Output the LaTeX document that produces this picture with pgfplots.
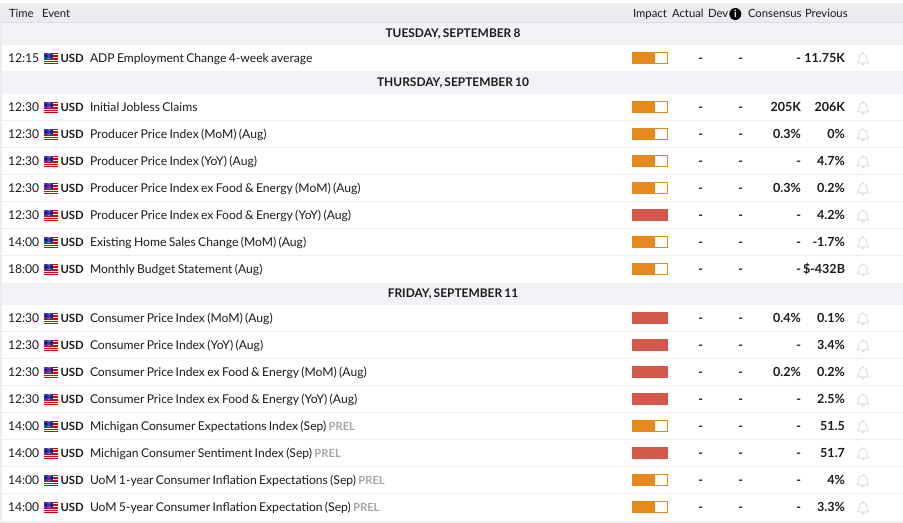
\documentclass[border=0pt]{standalone}
\usepackage{pgfplots}
\pgfplotsset{compat=1.18}
\usepackage{pgfplotstable}
\usepackage{fontspec}
\setmainfont{Lato}[WordSpace=0.75]
\definecolor{hdr}{HTML}{ECECF0}
\definecolor{sec}{HTML}{F2F2F7}
\definecolor{sepl}{HTML}{EDEDED}
\definecolor{txt}{HTML}{1A1A1A}
\definecolor{orng}{HTML}{E68A1E}
\definecolor{redb}{HTML}{D3584A}
\definecolor{bell}{HTML}{DEDEDE}
\definecolor{prelc}{HTML}{A6A6A6}
\pgfplotstableread{
y pad med rest high
58 632.5 21.5 13.5 0
107 632.5 21.5 13.5 0
134 632.5 21.5 13.5 0
161 632.5 21.5 13.5 0
188 632.5 21.5 13.5 0
215 632.5 0 0 35
242 632.5 21.5 13.5 0
269 632.5 21.5 13.5 0
318 632.5 0 0 35
345 632.5 0 0 35
372 632.5 0 0 35
399 632.5 0 0 35
426 632.5 21.5 13.5 0
453 632.5 0 0 35
480 632.5 21.5 13.5 0
507 632.5 21.5 13.5 0
}\bars
\tikzset{
 tx/.style={anchor=base west,inner sep=0pt,outer sep=0pt,text=txt,font=\fontsize{9.1pt}{11pt}\selectfont},
 txr/.style={anchor=base east,inner sep=0pt,outer sep=0pt,text=txt,font=\fontsize{9.4pt}{11pt}\selectfont\bfseries},
 pics/flag/.style={code={
  \begin{scope}[x=0.75pt,y=-0.75pt]
  \fill[white] (-7,-5.3) rectangle (7,5.7);
  \foreach \s in {-5.3,-3.7,-2.1,-0.5,1.1,2.7,4.3}{\fill[red!85!black] (-7,\s) rectangle (7,\s+0.95);}
  \fill[blue!50!black] (-7,-5.3) rectangle (1.5,1);
  \foreach \a in {-6.2,-5,-3.8,-2.6,-1.4,-0.2,1}{\foreach \b in {-4.7,-3.5,-2.3,-1.1,0.1}{\fill[white!80!blue] (\a,\b) circle (0.38);}}
  \end{scope}}},
 pics/bellicon/.style={code={
  \begin{scope}[x=0.75pt,y=-0.75pt,draw=bell,line width=0.75pt]
  \draw (-5.8,4) .. controls (-4,2.5) and (-4,1) .. (-4,-1.5) .. controls (-4,-4.5) and (-2,-5.5) .. (0,-5.5) .. controls (2,-5.5) and (4,-4.5) .. (4,-1.5) .. controls (4,1) and (4,2.5) .. (5.8,4) -- cycle;
  \draw (-1.5,4.3) .. controls (-1.2,6.6) and (1.2,6.6) .. (1.5,4.3);
  \draw (0,-5.5) -- (0,-6.5);
  \end{scope}}}
}
\newcommand{\prel}[1]{\textcolor{prelc}{\fontsize{8.4pt}{11pt}\selectfont\bfseries #1}}
\newcommand{\row}[5]{%
 \node[tx] at (axis cs:8,#1+4.8) {#2};
 \path (axis cs:51,#1+0.3) pic {flag};
 \node[tx,font=\fontsize{8.5pt}{11pt}\selectfont\bfseries] at (axis cs:60.5,#1+4.8) {USD};
 \node[tx] at (axis cs:90,#1+4.8) {#3};
 \node[txr] at (axis cs:703,#1+4.8) {-};
 \node[txr] at (axis cs:743,#1+4.8) {-};
 \node[txr] at (axis cs:801,#1+4.8) {#4};
 \node[txr] at (axis cs:845,#1+4.8) {#5};
 \path (axis cs:863,#1+1) pic {bellicon};
}
\newcommand{\sect}[2]{\node[anchor=base,inner sep=0pt,text=txt,font=\fontsize{8.95pt}{11pt}\selectfont\bfseries] at (axis cs:453,#1+5) {#2};}
\newcommand{\hd}[2]{\node[tx,font=\fontsize{8.5pt}{11pt}\selectfont] at (axis cs:#1,17.5) {#2};}
\newcommand{\band}[3]{\addplot[fill=#3,draw=none,mark=none] coordinates {(1.5,#1)(903,#1)(903,#2)(1.5,#2)} --cycle;}
\pgfplotsset{page/.style={scale only axis,width=677.25pt,height=392.25pt,at={(0,0)},anchor=south west,
  xmin=0,xmax=903,ymin=0,ymax=523,y dir=reverse,hide axis,clip=false}}
\begin{document}
\begin{tikzpicture}
\begin{axis}[page]
\band{3}{22}{hdr}
\band{22}{23}{black!13}
\band{23}{45}{sec}
\band{71}{94}{sec}
\band{283}{305}{sec}
\band{120}{121}{sepl}
\band{147}{148}{sepl}
\band{174}{175}{sepl}
\band{201}{202}{sepl}
\band{228}{229}{sepl}
\band{255}{256}{sepl}
\band{331}{332}{sepl}
\band{358}{359}{sepl}
\band{385}{386}{sepl}
\band{412}{413}{sepl}
\band{439}{440}{sepl}
\band{466}{467}{sepl}
\band{493}{494}{sepl}
\addplot[fill=sepl,draw=none,mark=none] coordinates {(0,3)(1.5,3)(1.5,523)(0,523)} --cycle;
\addplot[fill=sepl,draw=none,mark=none] coordinates {(0,521)(903,521)(903,523)(0,523)} --cycle;
\end{axis}
\begin{axis}[page,xbar stacked,bar width=8.25pt]
\addplot[draw=none,fill=none] table[x=pad,y=y] {\bars};
\addplot[draw=orng,fill=orng,line width=0.75pt] table[x=med,y=y] {\bars};
\addplot[draw=orng,fill=white,line width=0.75pt] table[x=rest,y=y] {\bars};
\addplot[draw=redb,fill=redb,line width=0.75pt] table[x=high,y=y] {\bars};
\hd{9}{Time}\hd{42}{Event}\hd{633}{Impact}\hd{672}{Actual}\hd{708}{Dev}\hd{748}{Consensus}\hd{805}{Previous}
\node[circle,fill=black,inner sep=0pt,minimum size=9pt,text=white,font=\fontsize{7.5pt}{8pt}\selectfont\bfseries] at (axis cs:735.3,14) {i};
\sect{33}{TUESDAY, SEPTEMBER 8}
\sect{82}{THURSDAY, SEPTEMBER 10}
\sect{293}{FRIDAY, SEPTEMBER 11}
\row{58}{12:15}{ADP Employment Change 4-week average}{-}{11.75K}
\row{107}{12:30}{Initial Jobless Claims}{205K}{206K}
\row{134}{12:30}{Producer Price Index (MoM) (Aug)}{0.3\%}{0\%}
\row{161}{12:30}{Producer Price Index (YoY) (Aug)}{-}{4.7\%}
\row{188}{12:30}{Producer Price Index ex Food \& Energy (MoM) (Aug)}{0.3\%}{0.2\%}
\row{215}{12:30}{Producer Price Index ex Food \& Energy (YoY) (Aug)}{-}{4.2\%}
\row{242}{14:00}{Existing Home Sales Change (MoM) (Aug)}{-}{-1.7\%}
\row{269}{18:00}{Monthly Budget Statement (Aug)}{-}{\$-432B}
\row{318}{12:30}{Consumer Price Index (MoM) (Aug)}{0.4\%}{0.1\%}
\row{345}{12:30}{Consumer Price Index (YoY) (Aug)}{-}{3.4\%}
\row{372}{12:30}{Consumer Price Index ex Food \& Energy (MoM) (Aug)}{0.2\%}{0.2\%}
\row{399}{12:30}{Consumer Price Index ex Food \& Energy (YoY) (Aug)}{-}{2.5\%}
\row{426}{14:00}{Michigan Consumer Expectations Index (Sep) \prel{PREL}}{-}{51.5}
\row{453}{14:00}{Michigan Consumer Sentiment Index (Sep) \prel{PREL}}{-}{51.7}
\row{480}{14:00}{UoM 1-year Consumer Inflation Expectations (Sep) \prel{PREL}}{-}{4\%}
\row{507}{14:00}{UoM 5-year Consumer Inflation Expectation (Sep) \prel{PREL}}{-}{3.3\%}
\end{axis}
\useasboundingbox (0,0) rectangle (677.25pt,392.25pt);
\end{tikzpicture}
\end{document}
